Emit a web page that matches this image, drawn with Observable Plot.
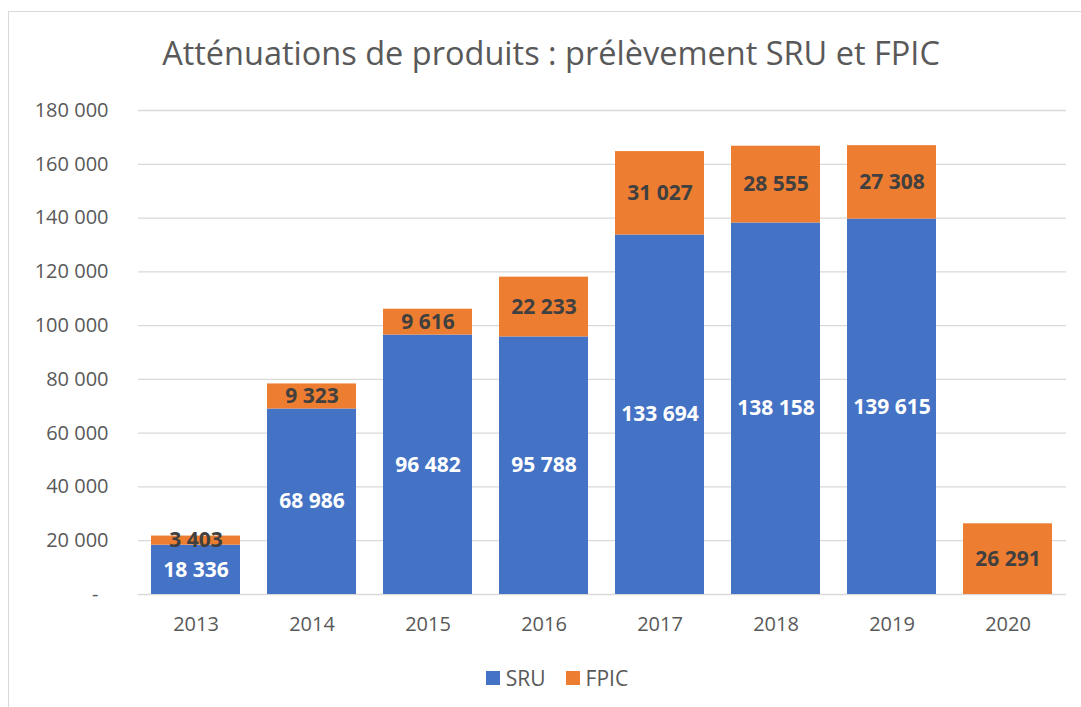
<!DOCTYPE html>
<html><head><meta charset="utf-8">
<script src="https://cdn.jsdelivr.net/npm/d3@7"></script>
<script src="https://cdn.jsdelivr.net/npm/@observablehq/plot@0.6"></script>
<style>
body{margin:0;background:#fff;font-family:"Open Sans",sans-serif;}
#frame{position:absolute;left:8px;top:11px;width:1073px;height:696px;border-left:1px solid #d9d9d9;border-top:1px solid #d9d9d9;box-sizing:border-box;}
#title{position:absolute;left:6px;width:1072px;top:21px;line-height:40px;text-align:center;font-size:32.5px;color:#595959;}
#chart{position:absolute;left:0;top:83px;}
#legend{position:absolute;left:12px;width:1072px;top:652px;display:flex;justify-content:center;align-items:center;font-size:21px;color:#595959;line-height:28px;}
.sw{display:inline-block;width:14px;height:14px;margin-right:6px;}
.item{display:flex;align-items:center;margin:0 10px;}
</style>
</head><body>
<div id="frame">
  <div id="title"></div>
  <div id="chart"></div>
  <div id="legend"></div>
</div>
<script>
const title = "Atténuations de produits : prélèvement SRU et FPIC";
const years = ["2013","2014","2015","2016","2017","2018","2019","2020"];
const sru  = [18336, 68986, 96482, 95788, 133694, 138158, 139615, null];
const fpic = [3403, 9323, 9616, 22233, 31027, 28555, 27308, 26291];
const seriesNames = ["SRU", "FPIC"];
const seriesColors = ["#4472C4", "#ED7D31"];
const yTicks = [0, 20000, 40000, 60000, 80000, 100000, 120000, 140000, 160000, 180000];

const locale = d3.formatLocale({decimal: ",", thousands: " ", grouping: [3], currency: ["", " €"]});
const fmt = locale.format(",d");

const rows = [];
years.forEach((y, i) => { if (sru[i] != null) rows.push({year: y, series: "SRU", value: sru[i]}); });
years.forEach((y, i) => { if (fpic[i] != null) rows.push({year: y, series: "FPIC", value: fpic[i]}); });

document.getElementById("title").textContent = title;

const chart = Plot.plot({
  width: 1072,
  height: 555,
  marginTop: 15,
  marginBottom: 56,
  marginLeft: 129,
  marginRight: 15,
  style: {fontFamily: "'Open Sans', sans-serif", fontSize: "20px", color: "#595959", background: "white"},
  x: {domain: years, paddingInner: 0.23, paddingOuter: 0.115, label: null, tickSize: 0, tickPadding: 22},
  y: {domain: [0, 180000], ticks: yTicks, label: null, tickSize: 0, tickPadding: 30,
      tickFormat: d => d === 0 ? "-\u2002" : fmt(d)},
  color: {domain: seriesNames, range: seriesColors},
  marks: [
    Plot.gridY(yTicks, {stroke: "#d9d9d9", strokeOpacity: 1, strokeWidth: 1.3}),
    Plot.barY(rows, {x: "year", y: "value", fill: "series", order: seriesNames}),
    Plot.text(rows, Plot.stackY({x: "year", y: "value", z: "series", order: seriesNames,
      text: d => d.series === "SRU" ? fmt(d.value) : "", fill: "white", fontWeight: "bold", fontSize: 21})),
    Plot.text(rows, Plot.stackY({x: "year", y: "value", z: "series", order: seriesNames,
      text: d => d.series === "FPIC" ? fmt(d.value) : "", fill: "#404040", fontWeight: "bold", fontSize: 21}))
  ]
});
document.getElementById("chart").appendChild(chart);

const legend = document.getElementById("legend");
seriesNames.forEach((s, i) => {
  const item = document.createElement("span");
  item.className = "item";
  const sw = document.createElement("span");
  sw.className = "sw";
  sw.style.background = seriesColors[i];
  item.appendChild(sw);
  item.appendChild(document.createTextNode(s));
  legend.appendChild(item);
});
</script>
</body></html>
